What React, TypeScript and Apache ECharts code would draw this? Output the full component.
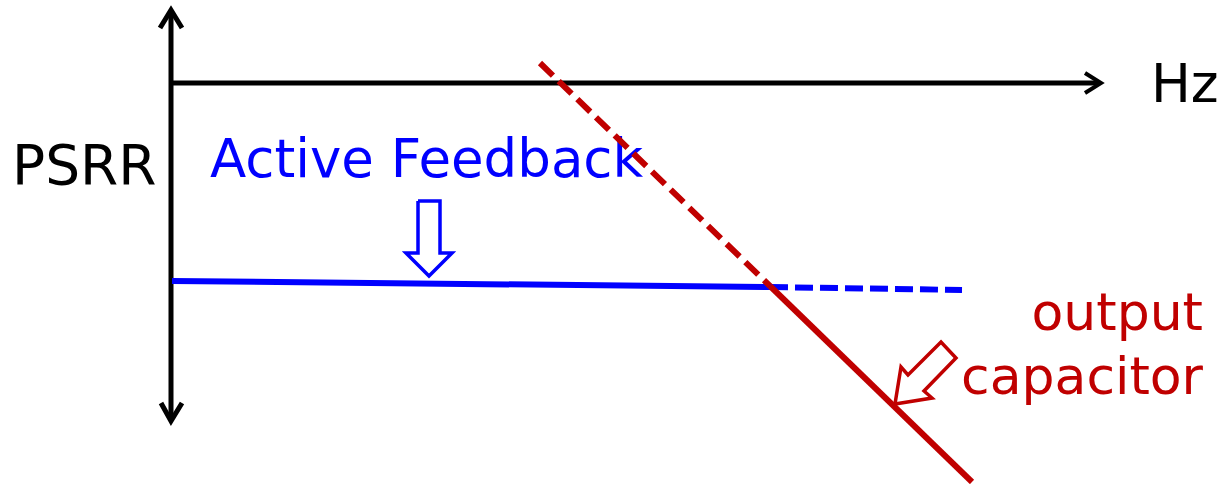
import React, { useEffect, useRef } from "react";
import * as echarts from "echarts";

const WIDTH = 1224;
const HEIGHT = 484;

// Diagram geometry in pixel-like data units (x: 0..1224, y: 0..484 top-down)
const vAxis = [[171, 10], [171, 421]];
const vArrowTop = [[160, 28], [171, 10], [182, 28]];
const vArrowBottom = [[161, 403], [171, 421], [182, 403]];
const hAxis = [[171, 83], [1100, 83]];
const hArrow = [[1085, 73], [1101, 83], [1085, 93]];

const blueSolid = [[172, 281], [770, 287]];
const blueDashed = [[770, 287], [962, 290]];
const redDashed = [[540, 63], [770, 286]];
const redSolid = [[770, 286], [972, 482]];

const blueHollowArrow = [
  [418, 201], [440, 201], [440, 253], [452, 253], [429, 276],
  [406, 253], [418, 253], [418, 201],
];
const redHollowArrow = [
  [895, 404], [901, 367], [908, 375], [941, 342], [956, 358],
  [924, 391], [932, 398], [895, 404],
];

const labels = [
  { text: "Hz", x: 1151, y: 83, color: "#000000", align: "left", size: 53 },
  { text: "PSRR", x: 12, y: 165, color: "#000000", align: "left", size: 55 },
  { text: "Active Feedback", x: 210, y: 158, color: "#0000FF", align: "left", size: 53 },
  { text: "output", x: 1203, y: 312, color: "#C00000", align: "right", size: 52 },
  { text: "capacitor", x: 1203, y: 376, color: "#C00000", align: "right", size: 52 },
];

const BLACK = "#000000";
const BLUE = "#0000FF";
const RED = "#C00000";

function lineSeries(data: number[][], color: string, width: number, type: any = "solid") {
  return {
    type: "line",
    data,
    symbol: "none",
    silent: true,
    lineStyle: { color, width, type, cap: "butt", join: "miter" },
    z: 2,
  };
}

export default function App() {
  const ref = useRef<HTMLDivElement>(null);
  useEffect(() => {
    document.body.style.margin = "0";
    const chart = echarts.init(ref.current!, null, { renderer: "svg" });
    chart.setOption({
      animation: false,
      backgroundColor: "#ffffff",
      grid: { left: 0, right: 0, top: 0, bottom: 0 },
      xAxis: { type: "value", min: 0, max: WIDTH, show: false },
      yAxis: { type: "value", min: 0, max: HEIGHT, inverse: true, show: false },
      series: [
        lineSeries(vAxis, BLACK, 5),
        lineSeries(vArrowTop, BLACK, 5),
        lineSeries(vArrowBottom, BLACK, 5),
        lineSeries(hAxis, BLACK, 5),
        lineSeries(hArrow, BLACK, 4),
        lineSeries(blueSolid, BLUE, 6),
        lineSeries(blueDashed, BLUE, 6, [18, 7]),
        lineSeries(redDashed, RED, 6, [18, 8]),
        lineSeries(redSolid, RED, 6),
        lineSeries(blueHollowArrow, BLUE, 3.5),
        lineSeries(redHollowArrow, RED, 3.5),
      ],
      graphic: labels.map((l) => ({
        type: "text",
        x: l.x,
        y: l.y,
        silent: true,
        style: {
          text: l.text,
          fill: l.color,
          font: `${l.size}px "DejaVu Sans"`,
          align: l.align,
          verticalAlign: "middle",
        },
      })),
    });
    return () => chart.dispose();
  }, []);
  return <div ref={ref} style={{ width: WIDTH, height: HEIGHT }} />;
}
